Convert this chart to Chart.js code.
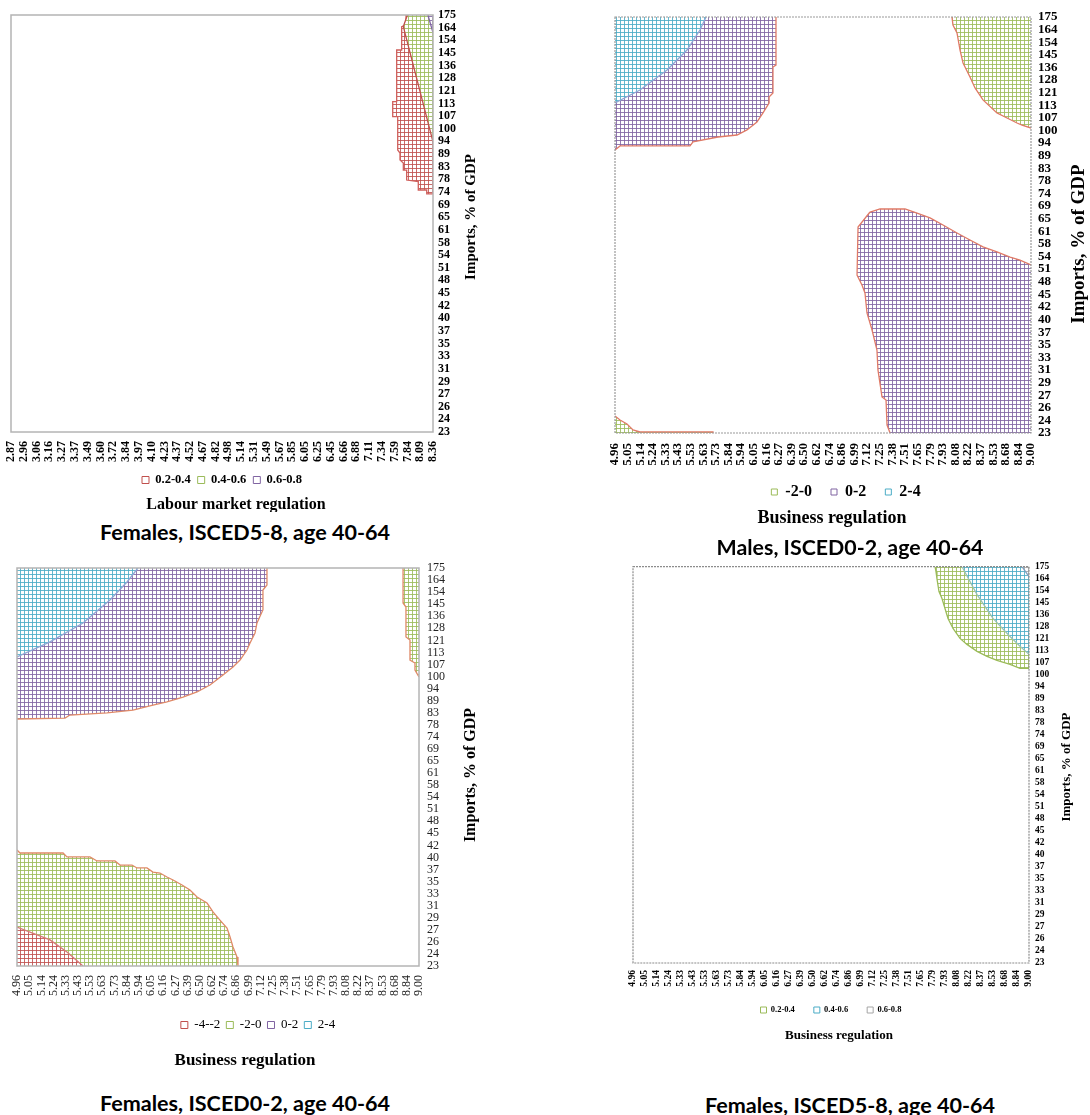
<!DOCTYPE html>
<html>
<head>
<meta charset="utf-8">
<script src="https://cdn.jsdelivr.net/npm/chart.js@4.4.0/dist/chart.umd.min.js"></script>
<style>
html,body{margin:0;padding:0;background:#fff;}
#wrap{position:relative;width:1090px;height:1115px;overflow:hidden;background:#fff;}
canvas{position:absolute;}
.ptitle{position:absolute;font-family:'Lato','Open Sans',sans-serif;font-weight:700;font-size:21px;line-height:21px;white-space:nowrap;color:#000;}
</style>
</head>
<body>
<div id="wrap">
  <canvas id="c1" width="500" height="512" style="left:0px;top:0px;"></canvas>
  <canvas id="c2" width="530" height="530" style="left:560px;top:0px;"></canvas>
  <canvas id="c3" width="500" height="522" style="left:0px;top:550px;"></canvas>
  <canvas id="c4" width="530" height="491" style="left:560px;top:555px;"></canvas>
  <div class="ptitle" id="t1">Females, ISCED5-8, age 40-64</div>
  <div class="ptitle" id="t2">Males, ISCED0-2, age 40-64</div>
  <div class="ptitle" id="t3">Females, ISCED0-2, age 40-64</div>
  <div class="ptitle" id="t4">Females, ISCED5-8, age 40-64</div>
</div>
<script>
// ---------------- DATA ----------------
// Imports, % of GDP (category labels, bottom -> top)
const importsLabels = ['23','24','26','27','29','31','33','35','37','40','42','45','48','51','54','58','61','65','69','74','78','83','89','94','100','107','113','121','128','136','145','154','164','175'];
// Labour market regulation (left -> right)
const labourLabels = ['2.87','2.96','3.06','3.16','3.27','3.37','3.49','3.60','3.72','3.84','3.97','4.10','4.23','4.37','4.52','4.67','4.82','4.98','5.14','5.31','5.49','5.67','5.85','6.05','6.25','6.45','6.66','6.88','7.11','7.34','7.59','7.84','8.09','8.36'];
// Business regulation (left -> right)
const businessLabels = ['4.96','5.05','5.14','5.24','5.33','5.43','5.53','5.63','5.73','5.84','5.94','6.05','6.16','6.27','6.39','6.50','6.62','6.74','6.86','6.99','7.12','7.25','7.38','7.51','7.65','7.79','7.93','8.08','8.22','8.37','8.53','8.68','8.84','9.00'];

// Contour band regions, vertices as [x category index, y category index]
// Panel 1: Females, ISCED5-8 (labour market regulation)
const p1Band02_04 = [[30.89,33],[30.89,32.21],[30.55,32.08],[30.55,30.23],[30.16,30.23],[30.16,26.14],[29.85,26.14],[29.85,24.95],[30.24,24.95],[30.24,22.32],[30.42,22.08],[30.42,21.53],[30.68,21.29],[30.68,20.73],[30.94,20.73],[30.94,19.94],[31.85,19.81],[31.85,19.15],[32.51,19.15],[32.51,18.84],[33,18.84],[33,33]];
const p1Band04_06 = [[31.0,33],[30.68,32.08],[33,22.97],[33,33]];
const p1Band06_08 = [[32.6,33],[33,31.6],[33,33]];

// Panel 2: Males, ISCED0-2 (business regulation)
const p2Band24 = [[0,33],[7.22,33],[6.74,31.97],[5.71,30.38],[4.13,28.8],[1.98,27.21],[0,26.18]];
const p2Band02a = [[0,33],[12.77,33],[12.77,29.19],[12.53,29.03],[12.53,26.97],[12.22,26.66],[12.22,26.18],[11.74,25.39],[11.26,24.67],[10.47,24.04],[9.68,23.64],[8.17,23.48],[6.19,23.09],[5.95,22.77],[0.4,22.77],[0,22.45]];
const p2Band02b = [[20.23,17.53],[21.02,17.77],[23.01,17.77],[23.96,17.45],[24.99,17.06],[26.02,16.5],[27.13,15.87],[28.16,15.31],[29.19,14.76],[30.3,14.36],[31.34,13.96],[32.13,13.72],[33,13.33],[33,0],[21.82,0],[21.58,0.63],[21.5,2.62],[21.18,2.86],[20.86,5.0],[20.78,6.58],[20.39,8.17],[19.99,9.52],[19.83,11.11],[19.59,11.74],[19.2,12.53],[19.28,16.34]];
const p2BandM20a = [[26.73,33],[26.81,32.37],[27.13,31.73],[27.37,30.38],[27.61,29.35],[28.16,28.24],[28.56,27.37],[29.19,26.42],[30.3,25.39],[30.94,25.07],[31.89,24.59],[32.29,24.43],[33,24.19],[33,33]];
const p2BandM20b = [[0,1.35],[0.4,1.03],[0.95,0.71],[1.43,0.24],[1.98,0.08],[7.77,0.08],[7.77,0],[0,0]];

// Panel 3: Females, ISCED0-2 (business regulation)
const p3Band24 = [[0,33],[9.93,33],[9.03,31.84],[7.63,30.35],[5.42,28.44],[2.71,26.87],[0,25.62]];
const p3Band02 = [[0,33],[20.52,33],[20.52,31.59],[20.19,31.17],[20.19,29.52],[19.7,28.44],[19.54,27.61],[19.13,26.78],[18.88,26.2],[18.31,25.37],[17.73,24.79],[16.91,24.13],[15.84,23.3],[14.78,22.72],[13.63,22.3],[12.31,21.89],[11.16,21.64],[9.52,21.22],[7.39,20.98],[4.35,20.81],[3.94,20.56],[0,20.48]];
const p3BandM20a = [[31.69,33],[31.69,30.1],[31.93,29.76],[31.93,27.28],[32.26,27.03],[32.26,25.37],[32.67,25.12],[32.67,24.54],[33,23.96],[33,33]];
const p3BandM20b = [[0,9.62],[0.25,9.37],[3.78,9.37],[4.1,9.04],[5.99,9.04],[6.57,8.71],[8.04,8.71],[8.46,8.37],[9.44,8.37],[9.85,8.13],[10.67,8.13],[11.16,7.79],[11.74,7.71],[12.31,7.38],[12.81,7.13],[13.55,6.72],[14.2,6.3],[14.78,5.72],[15.6,5.22],[16.09,4.48],[16.66,3.81],[17.24,3.15],[17.49,2.4],[17.73,1.58],[18.06,0.75],[18.14,0],[0,0]];
const p3BandM4M2 = [[0,3.23],[2.71,2.16],[4.1,1.16],[5.42,0],[0,0]];

// Panel 4: Females, ISCED5-8 (business regulation)
const p4Band02_04 = [[25.17,33],[25.25,32.58],[25.33,32.0],[25.5,30.93],[25.75,30.35],[26.0,29.52],[26.25,28.69],[26.67,27.86],[27.25,27.03],[27.83,26.53],[28.67,25.95],[29.5,25.54],[30.33,25.2],[31.42,24.87],[32.25,24.54],[33,24.54],[33,33]];
const p4Band04_06 = [[27.42,33],[28.67,30.68],[30.0,28.69],[31.42,27.19],[32.25,26.37],[33,25.7],[33,33]];
const p4Band06_08 = [[32.42,33],[33,32.17],[33,33]];

// ---------------- STYLE / LAYOUT ----------------
const SERIF = "'Liberation Serif','Times New Roman',serif";
const COLORS = {red:'#c0504d', green:'#9bbb59', purple:'#8064a2', cyan:'#4bacc6', gray:'#a5a5a5'};
const EDGE_RED = '#e07a66';

const panels = [
  { id:'c1', xLabels: labourLabels,
    bands:[['0.2-0.4','red'],['0.4-0.6','green'],['0.6-0.8','purple']],
    pieces:[ {data:p1Band02_04, color:'red', edge:'#d0605c'},
             {data:p1Band04_06, color:'green', edge:'#c0504d'},
             {data:p1Band06_08, color:'purple', edge:'#8064a2'} ],
    layout:{left:11, top:15, right:32, bottom:15.75}, yAxisW:35, xAxisH:34.75,
    tickFont:{family:SERIF, size:12, weight:'bold'}, tickColor:'#000', yPad:5, xPad:9,
    legend:{font:{family:SERIF, size:12.5, weight:'bold'}, box:7, pad:7, full:false},
    texts:[ {text:'Labour market regulation', x:236, y:505, size:16, rotate:false},
            {text:'Imports, % of GDP', x:471, y:217, size:15, rotate:true} ],
    frame:{color:'#b4b4b4', width:1.5, dashed:false}, cell:4 },
  { id:'c2', xLabels: businessLabels,
    bands:[['-2-0','green'],['0-2','purple'],['2-4','cyan']],
    pieces:[ {data:p2Band02a, color:'purple', edge:EDGE_RED},
             {data:p2Band24, color:'cyan', edge:'#8ea6d6'},
             {data:p2Band02b, color:'purple', edge:EDGE_RED},
             {data:p2BandM20a, color:'green', edge:EDGE_RED},
             {data:p2BandM20b, color:'green', edge:EDGE_RED} ],
    layout:{left:55, top:17, right:13, bottom:20}, yAxisW:46, xAxisH:32,
    tickFont:{family:SERIF, size:13, weight:'bold'}, tickColor:'#000', yPad:7, xPad:10,
    legend:{font:{family:SERIF, size:16, weight:'bold'}, box:6, pad:19, full:true},
    texts:[ {text:'Business regulation', x:272, y:518, size:18, rotate:false},
            {text:'Imports, % of GDP', x:519, y:244, size:19, rotate:true} ],
    frame:{color:'#9a9a9a', width:1.2, dashed:true}, cell:4 },
  { id:'c3', xLabels: businessLabels,
    bands:[['-4--2','red'],['-2-0','green'],['0-2','purple'],['2-4','cyan']],
    pieces:[ {data:p3Band02, color:'purple', edge:'#e08a68'},
             {data:p3Band24, color:'cyan', edge:'#8ea6d6'},
             {data:p3BandM20a, color:'green', edge:'#e08a68'},
             {data:p3BandM20b, color:'green', edge:'#e08a68'},
             {data:p3BandM4M2, color:'red', edge:'#d87a78'} ],
    layout:{left:17, top:18, right:1, bottom:30.5}, yAxisW:80, xAxisH:46.5,
    tickFont:{family:SERIF, size:12, weight:'normal'}, tickColor:'#222', yPad:8, xPad:9,
    legend:{font:{family:SERIF, size:13, weight:'normal'}, box:7, pad:6, full:true},
    texts:[ {text:'Business regulation', x:245, y:511, size:17, rotate:false},
            {text:'Imports, % of GDP', x:471, y:225, size:16, rotate:true} ],
    frame:{color:'#b4b4b4', width:1.5, dashed:false}, cell:4 },
  { id:'c4', xLabels: businessLabels,
    bands:[['0.2-0.4','green'],['0.4-0.6','cyan'],['0.6-0.8','gray']],
    pieces:[ {data:p4Band02_04, color:'green', edge:'#9bbb59'},
             {data:p4Band04_06, color:'cyan', edge:'#9cc3b0'},
             {data:p4Band06_08, color:'gray', edge:'#7fa0c0'} ],
    layout:{left:73, top:10, right:31, bottom:21.75}, yAxisW:30, xAxisH:23.75,
    tickFont:{family:SERIF, size:9.5, weight:'bold'}, tickColor:'#000', yPad:6, xPad:7,
    legend:{font:{family:SERIF, size:8.5, weight:'bold'}, box:6, pad:19, full:false},
    texts:[ {text:'Business regulation', x:279, y:481, size:13, rotate:false},
            {text:'Imports, % of GDP', x:507, y:212, size:13, rotate:true} ],
    frame:{color:'#8c8c8c', width:1.2, dashed:true}, cell:4 }
];

const panelTitles = [
  {id:'t1', cx:245, cy:531, w:290},
  {id:'t2', cx:850, cy:546, w:267},
  {id:'t3', cx:245, cy:1102, w:290},
  {id:'t4', cx:850, cy:1104, w:290}
];

// ---------------- HELPERS ----------------
function makePattern(hex, size) {
  const c = document.createElement('canvas');
  c.width = size; c.height = size;
  const g = c.getContext('2d');
  g.fillStyle = '#ffffff'; g.fillRect(0, 0, size, size);
  g.globalAlpha = 0.85; g.fillStyle = hex;
  g.fillRect(0, 0, size, 1); g.fillRect(0, 0, 1, size);
  return g.createPattern(c, 'repeat');
}
function toPts(arr) {
  const pts = arr.map(([x, y]) => ({x, y}));
  pts.push({x: arr[0][0], y: arr[0][1]});
  return pts;
}
const MAXI = 33;
function onEdge(a, b) {
  const e = (v, t) => Math.abs(v - t) < 1e-6;
  return (e(a.x, b.x) && (e(a.x, 0) || e(a.x, MAXI))) || (e(a.y, b.y) && (e(a.y, 0) || e(a.y, MAXI)));
}

const textPlugin = {
  id: 'axisText',
  afterDraw(chart, args, opts) {
    const ctx = chart.ctx;
    const items = opts.items || [];
    for (let i = 0; i < items.length; i++) {
      const it = items[i];
      ctx.save();
      ctx.font = 'bold ' + it.size + 'px ' + SERIF;
      ctx.fillStyle = '#000';
      ctx.textAlign = 'center';
      ctx.textBaseline = 'middle';
      ctx.translate(it.x, it.y);
      if (it.rotate) ctx.rotate(-Math.PI / 2);
      ctx.fillText(it.text, 0, 0);
      ctx.restore();
    }
  }
};
const framePlugin = {
  id: 'frame',
  afterDatasetsDraw(chart, args, opts) {
    const {left, top, right, bottom} = chart.chartArea;
    const ctx = chart.ctx;
    ctx.save();
    ctx.strokeStyle = opts.color;
    ctx.lineWidth = opts.width;
    ctx.setLineDash(opts.dashed ? [2, 1] : []);
    ctx.strokeRect(left, top, right - left, bottom - top);
    ctx.restore();
  }
};

function buildChart(p) {
  // drawing sequence: fill of piece, then its contour line; later pieces on top
  const seq = [];
  p.pieces.forEach(pc => {
    seq.push({
      data: toPts(pc.data),
      fill: 'shape',
      backgroundColor: makePattern(COLORS[pc.color], p.cell),
      borderWidth: 0,
      borderColor: 'rgba(0,0,0,0)',
      pointRadius: 0, pointHoverRadius: 0,
      tension: 0, clip: 0
    });
    const edge = pc.edge;
    seq.push({
      data: toPts(pc.data),
      fill: false,
      borderColor: edge,
      borderWidth: 1.3,
      pointRadius: 0, pointHoverRadius: 0,
      tension: 0, clip: 0,
      segment: { borderColor: c => onEdge(c.p0.parsed, c.p1.parsed) ? 'rgba(0,0,0,0)' : edge }
    });
  });
  const datasets = seq.map((d, k) => Object.assign(d, {order: seq.length - k}));

  return new Chart(document.getElementById(p.id), {
    type: 'line',
    data: { datasets },
    plugins: [textPlugin, framePlugin],
    options: {
      responsive: false,
      maintainAspectRatio: false,
      animation: false,
      devicePixelRatio: 1,
      events: [],
      layout: { padding: p.layout },
      scales: {
        x: {
          type: 'linear', min: 0, max: MAXI, position: 'bottom',
          afterBuildTicks: s => { s.ticks = p.xLabels.map((_, i) => ({value: i})); },
          afterFit: s => { s.height = p.xAxisH; },
          grid: { display: false, drawTicks: false },
          border: { display: false },
          ticks: { autoSkip: false, minRotation: 90, maxRotation: 90, padding: p.xPad,
                   font: p.tickFont, color: p.tickColor, callback: v => p.xLabels[v] }
        },
        y: {
          type: 'linear', min: 0, max: MAXI, position: 'right',
          afterBuildTicks: s => { s.ticks = importsLabels.map((_, i) => ({value: i})); },
          afterFit: s => { s.width = p.yAxisW; },
          grid: { display: false, drawTicks: false },
          border: { display: false },
          ticks: { autoSkip: false, padding: p.yPad, font: p.tickFont, color: p.tickColor,
                   callback: v => importsLabels[v] }
        }
      },
      plugins: {
        title: { display: false },
        tooltip: { enabled: false },
        legend: {
          display: true, position: 'bottom', align: 'center', fullSize: p.legend.full, onClick: null,
          labels: {
            boxWidth: p.legend.box, boxHeight: p.legend.box, padding: p.legend.pad,
            font: p.legend.font, color: '#000',
            generateLabels: () => p.bands.map(([text, c]) => ({
              text, fillStyle: '#ffffff', strokeStyle: COLORS[c], lineWidth: 1, hidden: false, fontColor: '#000'
            }))
          }
        },
        axisText: { items: p.texts },
        frame: p.frame
      }
    }
  });
}

panels.forEach(buildChart);

// panel captions
const mctx = document.createElement('canvas').getContext('2d');
mctx.font = "700 21px 'Lato','Open Sans',sans-serif";
panelTitles.forEach(t => {
  const el = document.getElementById(t.id);
  const w = mctx.measureText(el.textContent).width;
  const k = t.w / w;
  el.style.left = t.cx + 'px';
  el.style.top = t.cy + 'px';
  el.style.transform = 'translate(-50%,-50%) scaleX(' + k.toFixed(3) + ')';
});
</script>
</body>
</html>
